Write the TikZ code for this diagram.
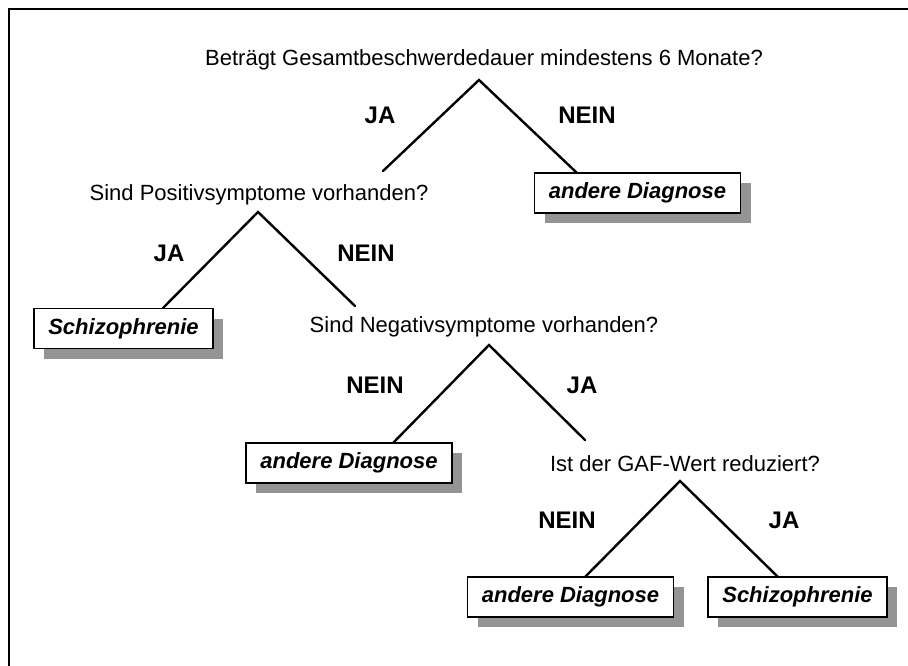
\documentclass[tikz,border=0pt]{standalone}
\usepackage{fontspec}
\setmainfont{Liberation Sans}
\usetikzlibrary{shadows}
\begin{document}
\begin{tikzpicture}[x=1pt,y=-1pt,
  question/.style={inner sep=0pt,font=\fontsize{22}{26}\selectfont},
  answer/.style={inner sep=0pt,font=\fontsize{24}{28}\selectfont\bfseries},
  result/.style={draw=black,line width=1.6pt,fill=white,inner sep=0pt,
    minimum height=40pt,font=\fontsize{22}{26}\selectfont\bfseries\itshape,
    drop shadow={shadow xshift=10pt,shadow yshift=-10pt,fill=black!42,opacity=1}},
  wide/.style={minimum width=206pt},
  narrow/.style={minimum width=179pt},
  branch/.style={line width=2.4pt,line cap=round,line join=miter},
  frame/.style={line width=2pt}]
\useasboundingbox (0,0) rectangle (908,666);
\draw[frame] (9,666) -- (9,9) -- (908,9);

% questions
\node[question] (q1) at (484,60) {Beträgt Gesamtbeschwerdedauer mindestens 6 Monate?};
\node[question] (q2) at (259,195) {Sind Positivsymptome vorhanden?};
\node[question] (q3) at (484,327) {Sind Negativsymptome vorhanden?};
\node[question] (q4) at (685,464) {Ist der GAF-Wert reduziert?};

% results
\node[result,wide]   (b1) at (637.5,193) {andere Diagnose};
\node[result,narrow] (s1) at (123.5,328.5) {Schizophrenie};
\node[result,wide]   (b2) at (349,463) {andere Diagnose};
\node[result,wide]   (b3) at (570.5,597) {andere Diagnose};
\node[result,narrow] (s2) at (797.5,597) {Schizophrenie};

% labels
\node[answer] (j1) at (380,115) {JA};
\node[answer] (n1) at (587,115) {NEIN};
\node[answer] (j2) at (169,253) {JA};
\node[answer] (n2) at (366,253) {NEIN};
\node[answer] (n3) at (375,385) {NEIN};
\node[answer] (j3) at (582,385) {JA};
\node[answer] (n4) at (567,520) {NEIN};
\node[answer] (j4) at (784,520) {JA};

% apex and end points
\coordinate (t1) at (479,80);
\coordinate (l1) at (383,171);
\coordinate (r1) at (577,173);
\coordinate (t2) at (258,212);
\coordinate (l2) at (163,308);
\coordinate (r2) at (355,306);
\coordinate (t3) at (489,345);
\coordinate (l3) at (393,443);
\coordinate (r3) at (585,440);
\coordinate (t4) at (680,481);
\coordinate (l4) at (585,577);
\coordinate (r4) at (778,577);

\draw[branch] (l1) -- (t1) -- (r1);
\draw[branch] (l2) -- (t2) -- (r2);
\draw[branch] (l3) -- (t3) -- (r3);
\draw[branch] (l4) -- (t4) -- (r4);
\end{tikzpicture}
\end{document}
